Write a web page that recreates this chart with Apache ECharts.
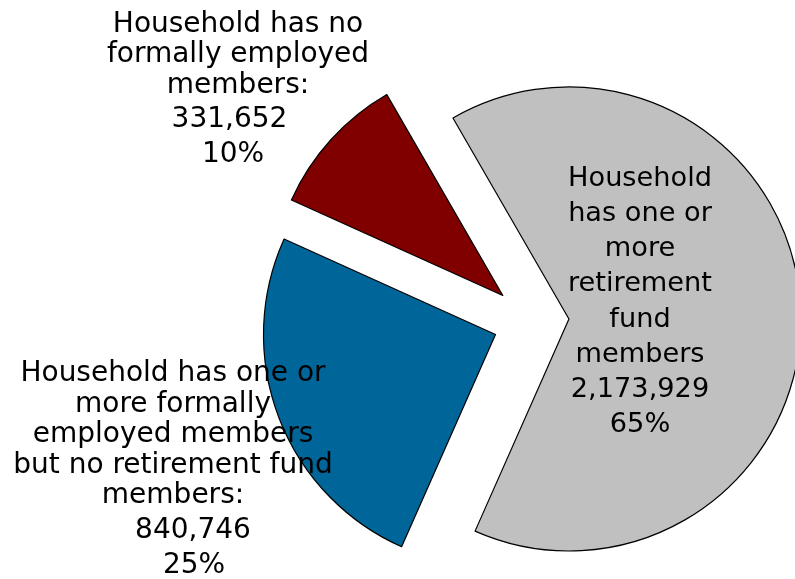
<!DOCTYPE html>
<html>
<head>
<meta charset="utf-8">
<script src="https://cdn.jsdelivr.net/npm/echarts@6/dist/echarts.min.js"></script>
<style>
html, body { margin: 0; padding: 0; background: #fff; }
#chart { width: 795px; height: 579px; }
</style>
</head>
<body>
<div id="chart"></div>
<script>
// slices go clockwise from the top-left edge of the grey slice
const categories = [
  'Household has one or more retirement fund members',
  'Household has one or more formally employed members but no retirement fund members',
  'Household has no formally employed members'
];
const labelNames = [
  'Household\nhas one or\nmore\nretirement\nfund\nmembers',
  'Household has one or\nmore formally\nemployed members\nbut no retirement fund\nmembers:',
  'Household has no\nformally employed\nmembers:'
];
const values = [2173929, 840746, 331652];
const colors = ['#C0C0C0', '#006699', '#800000'];

// where each label block sits (centre of the block)
const labelPos = [[640, 302], [173, 470], [238, 90]];

let chart = echarts.init(document.getElementById('chart'), null, { renderer: 'canvas' });

let slice_data = [];
let label_data = [];
for (let i in values) {
  slice_data.push({
    name: categories[i],
    value: values[i],
    selected: true,
    itemStyle: { color: colors[i] }
  });
  label_data.push({ name: categories[i], value: values[i] });
}

chart.setOption({
  animation: false,
  series: [
    {
      // exploded slices
      type: 'pie',
      center: [531, 321],
      radius: 232,
      startAngle: 120,
      clockwise: true,
      selectedMode: 'multiple',
      selectedOffset: 38,
      silent: true,
      itemStyle: {
        borderColor: '#000',
        borderWidth: 1.2
      },
      select: {
        itemStyle: { borderColor: '#000', borderWidth: 1.2 }
      },
      emphasis: { disabled: true },
      label: { show: false },
      labelLine: { show: false },
      data: slice_data
    },
    {
      // same data again, only for the data labels
      type: 'pie',
      center: [531, 321],
      radius: [0, 1],
      startAngle: 120,
      clockwise: true,
      silent: true,
      percentPrecision: 0,
      avoidLabelOverlap: false,
      itemStyle: { color: 'rgba(0,0,0,0)', borderWidth: 0 },
      emphasis: { disabled: true },
      label: {
        show: true,
        position: 'inside',
        color: '#000',
        fontFamily: 'DejaVu Sans',
        fontSize: 28,
        formatter: function (p) {
          let num = echarts.format.addCommas(p.value);
          let i = p.dataIndex;
          if (i === 0) {
            return '{g|' + labelNames[i] + '\n' + num + '\n' + p.percent + '%}';
          }
          let pad = i === 1 ? 'b' : 'r';
          return '{n|' + labelNames[i] + '}\n{' + pad + 'v|' + num + '}\n{' + pad + 'p|' + p.percent + '%}';
        },
        rich: {
          g: { fontSize: 27.2, lineHeight: 35.2, fontFamily: 'DejaVu Sans', color: '#000' },
          n: { fontSize: 28, lineHeight: 30.5, fontFamily: 'DejaVu Sans', color: '#000' },
          bv: { fontSize: 28, lineHeight: 38, fontFamily: 'DejaVu Sans', color: '#000', padding: [0, 0, 0, 40] },
          bp: { fontSize: 28, lineHeight: 32, fontFamily: 'DejaVu Sans', color: '#000', padding: [0, 0, 0, 42] },
          rv: { fontSize: 28, lineHeight: 38, fontFamily: 'DejaVu Sans', color: '#000', padding: [0, 17, 0, 0] },
          rp: { fontSize: 28, lineHeight: 32, fontFamily: 'DejaVu Sans', color: '#000', padding: [0, 10, 0, 0] }
        }
      },
      labelLine: { show: false },
      labelLayout: function (params) {
        let pos = labelPos[params.dataIndex];
        return { x: pos[0], y: pos[1], align: 'center', verticalAlign: 'middle' };
      },
      data: label_data
    }
  ]
});
</script>
</body>
</html>
